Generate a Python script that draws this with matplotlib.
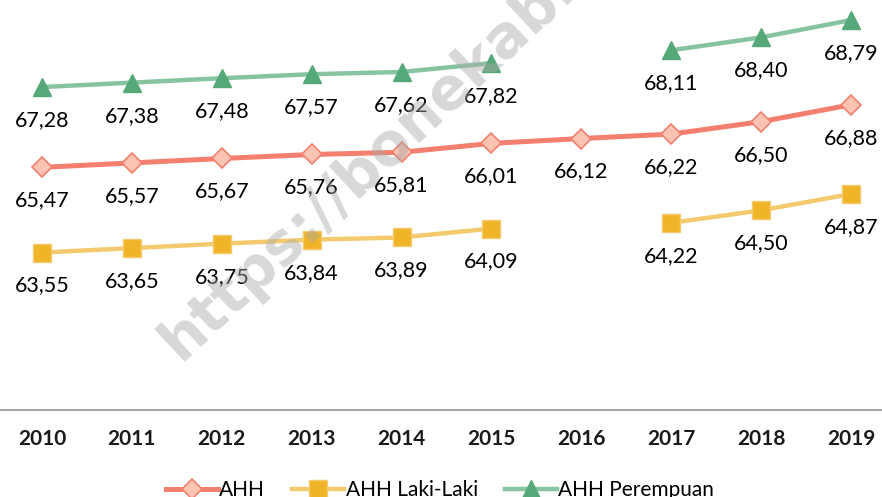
from matplotlib import pyplot as plt
import numpy as np

years = ['2010', '2011', '2012', '2013', '2014', '2015', '2016', '2017', '2018', '2019']
ahh = [65.47, 65.57, 65.67, 65.76, 65.81, 66.01, 66.12, 66.22, 66.50, 66.88]
ahh_laki = [63.55, 63.65, 63.75, 63.84, 63.89, 64.09, np.nan, 64.22, 64.50, 64.87]
ahh_perempuan = [67.28, 67.38, 67.48, 67.57, 67.62, 67.82, np.nan, 68.11, 68.40, 68.79]

plt.rcParams['font.family'] = ['Lato', 'DejaVu Sans']

fig = plt.figure(figsize=(8.82, 4.97), dpi=100)
ax = fig.add_axes([0, 87 / 497, 1, 410 / 497])
x = np.arange(len(years))

ax.plot(x, ahh_perempuan, color='#86c4a0', lw=3.2, marker='^', ms=13,
        mfc='#55a878', mec='#55a878', label='AHH Perempuan', zorder=3)
ax.plot(x, ahh, color='#f47f6e', lw=3.6, marker='D', ms=10,
        mfc='#fbc3b1', mec='#f47f6e', mew=1.2, label='AHH', zorder=3)
ax.plot(x, ahh_laki, color='#f3cb6e', lw=3.2, marker='s', ms=13,
        mfc='#f0b429', mec='#f3cb6e', label='AHH Laki-Laki', zorder=3)

for series in (ahh, ahh_laki, ahh_perempuan):
    for xi, v in zip(x, series):
        if np.isnan(v):
            continue
        ax.annotate(f'{v:.2f}'.replace('.', ','), (xi, v), xytext=(0, -33),
                    textcoords='offset pixels', ha='center', va='center',
                    fontsize=15.5, color='black')

ax.set_xlim(-42 / 89.9, 9 + 31 / 89.9)
ax.set_ylim(60, 65.47 + 166 / 44)
ax.set_xticks(x)
ax.set_xticklabels(years, fontsize=15, fontweight='bold', color='#1a1a1a')
ax.tick_params(axis='x', length=0, pad=14)
ax.set_yticks([])
for s in ('top', 'left', 'right'):
    ax.spines[s].set_visible(False)
ax.spines['bottom'].set_color('#a6a6a6')
ax.spines['bottom'].set_linewidth(1.5)

# watermark
fig.text(180 / 882, 1 - 362 / 497, 'https://bonekab.bps.go.id', fontsize=42,
         fontweight='bold', family='DejaVu Sans', color='#a8a8a8', alpha=0.45,
         rotation=43, ha='left', va='baseline', rotation_mode='anchor', zorder=10)

h, l = ax.get_legend_handles_labels()
order = [1, 2, 0]
fig.legend([h[i] for i in order], [l[i] for i in order], loc='center',
           bbox_to_anchor=(440 / 882, 1 - 490 / 497), ncol=3, frameon=False,
           fontsize=15, handlelength=2.5, columnspacing=1.3, handletextpad=0.05)

fig.savefig('out.png', dpi=100)
